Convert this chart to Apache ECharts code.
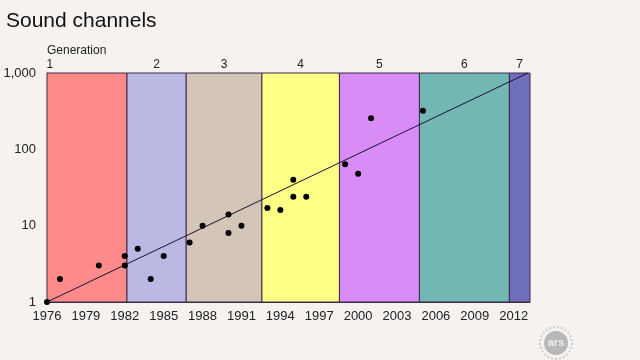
<!DOCTYPE html>
<html><head><meta charset="utf-8">
<script src="https://cdn.jsdelivr.net/npm/echarts@6/dist/echarts.min.js"></script>
<style>html,body{margin:0;padding:0;background:#f5f2ef}#c{width:640px;height:360px}</style>
</head><body><div id="c"></div>
<script>
const pointYears = [1976,1977,1980,1982,1982,1983,1984,1985,1987,1988,1990,1990,1991,1993,1994,1995,1995,1996,1999,2000,2001,2005];
const pointChannels = [1,2,3,4,3,5,2,4,6,10,14,8,10,17,16,40,24,24,64,48,256,320];
const genNames = ['1','2','3','4','5','6','7'];
const genStart = [1976,1982.17,1986.74,1992.58,1998.56,2004.73,2011.67];
const genEnd = [1982.17,1986.74,1992.58,1998.56,2004.73,2011.67,2013.26];
const genColors = ['#ff8a8a','#b9b9e3','#d3c5b8','#ffff88','#d98cf6','#73b7b4','#6f6fbb'];
const trendYears = [1976, 2013.1];
const trendValues = [1, 1000];
const xTickLabels = [1976,1979,1982,1985,1988,1991,1994,1997,2000,2003,2006,2009,2012];

const font = 'Liberation Sans, Arial, sans-serif';
const chart = echarts.init(document.getElementById('c'), null, {renderer:'canvas'});

const bandData = genNames.map((g, i) => [
  {
    xAxis: genStart[i],
    itemStyle: {color: genColors[i], borderColor: '#3b2b4a', borderWidth: 1},
    label: i === 0
      ? {show: true, formatter: g, position: [0, -14], color: '#222', fontSize: 12, fontFamily: font}
      : {show: true, formatter: g, position: 'top', distance: 2, color: '#222', fontSize: 12, fontFamily: font}
  },
  {xAxis: genEnd[i]}
]);

chart.setOption({
  backgroundColor: '#f5f2ef',
  animation: false,
  title: {text: 'Sound channels', left: 1, top: 6,
    textStyle: {fontSize: 21, fontWeight: 'normal', color: '#111', fontFamily: font}},
  grid: {left: 47, right: 110, top: 73, bottom: 58, containLabel: false},
  graphic: [
    {type: 'text', left: 47, top: 45, style: {text: 'Generation', fontSize: 12, fill: '#222', font: '12px ' + font}},
    {type: 'circle', shape: {cx: 556, cy: 343, r: 16}, style: {fill: 'none', stroke: '#cfcfcf', lineWidth: 2, lineDash: [2, 2]}},
    {type: 'circle', shape: {cx: 556, cy: 343, r: 12}, style: {fill: '#b8b8b8'}},
    {type: 'text', x: 556, y: 343, style: {text: 'ars', fill: '#eee', font: 'bold 11px ' + font, align: 'center', verticalAlign: 'middle'}}
  ],
  xAxis: {
    type: 'value', min: 1976, max: genEnd[genEnd.length - 1],
    axisLine: {show: true, lineStyle: {color: '#333', width: 1}},
    axisTick: {show: true, inside: true, length: 4, customValues: xTickLabels, lineStyle: {color: '#333'}},
    axisLabel: {customValues: xTickLabels, color: '#222', fontSize: 13, margin: 8, fontFamily: font,
      formatter: v => String(v)},
    splitLine: {show: false}
  },
  yAxis: {
    type: 'log', logBase: 10, min: 1, max: 1000,
    axisLine: {show: true, lineStyle: {color: '#333', width: 1}},
    axisTick: {show: true, inside: true, length: 4, lineStyle: {color: '#333'}},
    axisLabel: {color: '#222', fontSize: 13, margin: 11, fontFamily: font,
      formatter: v => Number(v).toLocaleString('en-US')},
    splitLine: {show: false},
    minorTick: {show: false}
  },
  series: [
    {type: 'line', data: [], z: 1, silent: true,
      markArea: {silent: true, data: bandData}},
    {type: 'line', z: 3, data: trendYears.map((y, i) => [y, trendValues[i]]),
      symbol: 'none', lineStyle: {color: '#1a1030', width: 1}, silent: true},
    {type: 'scatter', z: 4, data: pointYears.map((y, i) => [y, pointChannels[i]]),
      symbolSize: 6, itemStyle: {color: '#000', opacity: 1}}
  ]
});
</script></body></html>
